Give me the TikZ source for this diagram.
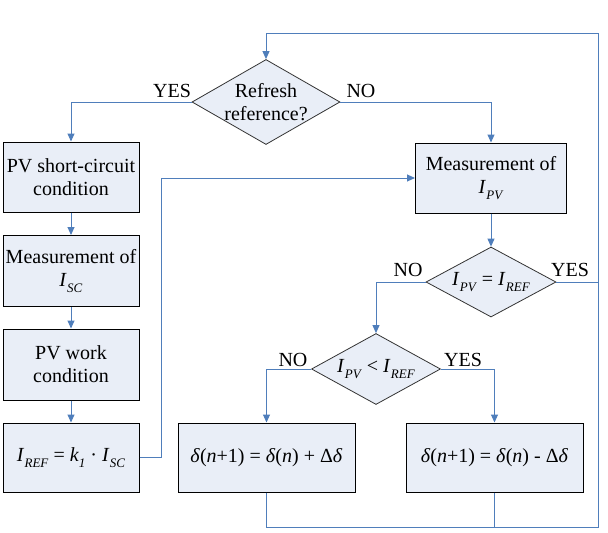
\documentclass[tikz,border=0pt]{standalone}
\usepackage{fontspec}
\setmainfont{Liberation Serif}
\usetikzlibrary{shapes.geometric,arrows.meta}
\definecolor{linkblue}{HTML}{4F7EBB}
\definecolor{boxfill}{HTML}{E9EEF7}
\newcommand\Isub[2]{\textit{#1}\kern0.3pt\raisebox{-0.28em}{\fontsize{13}{13}\selectfont\textit{#2}}}
\begin{document}
\begin{tikzpicture}[x=1pt,y=-1pt,
  every node/.style={font=\fontsize{20}{23}\selectfont},
  procbox/.style={draw=black, line width=1pt, fill=boxfill, rectangle, inner sep=0pt, align=center},
  decbox/.style={draw=black!80, line width=0.8pt, fill=boxfill, diamond, inner sep=0pt},
  lab/.style={inner sep=0pt},
  link/.style={draw=linkblue, line width=1pt},
  arr/.style={link, -{Triangle[length=8pt,width=7pt]}}]
\useasboundingbox (0,0) rectangle (608,533);
% decisions
\node[decbox, minimum width=148pt, minimum height=85pt] (d1) at (266,102) {};
\node[lab, align=center] (d1t) at (d1.center) {Refresh\\reference?};
\node[decbox, minimum width=130pt, minimum height=70pt] (d2) at (491,282) {};
\node[lab] (d2t) at (d2.center) {\Isub{I}{PV} = \Isub{I}{REF}};
\node[decbox, minimum width=129pt, minimum height=71pt] (d3) at (376,369) {};
\node[lab] (d3t) at (d3.center) {\Isub{I}{PV} < \Isub{I}{REF}};
% left column
\node[procbox, minimum width=136pt, minimum height=70pt] (b1) at (71,177) {PV short-circuit\\condition};
\node[procbox, minimum width=136pt, minimum height=71pt] (b2) at (71,271) {Measurement of\\\Isub{I}{SC}};
\node[procbox, minimum width=136pt, minimum height=71pt] (b3) at (71,364.5) {PV work\\condition};
\node[procbox, minimum width=136pt, minimum height=69pt] (b4) at (71,457.5) {\Isub{I}{REF} = \textit{k}\raisebox{-0.28em}{\fontsize{13}{13}\selectfont\textit{1}} · \Isub{I}{SC}};
% right column
\node[procbox, minimum width=151pt, minimum height=70pt] (m1) at (491,178) {Measurement of\\\Isub{I}{PV}};
\node[procbox, minimum width=177pt, minimum height=69pt] (p1) at (266.5,457.5) {\textit{δ}(\textit{n}+1) = \textit{δ}(\textit{n}) + Δ\textit{δ}};
\node[procbox, minimum width=177pt, minimum height=69pt] (p2) at (494.5,457.5) {\textit{δ}(\textit{n}+1) = \textit{δ}(\textit{n}) - Δ\textit{δ}};
% loop corners
\coordinate (br) at (598,527);
\coordinate (tr) at (598,33);
% connectors
\draw[arr] (d1.west) -| (b1.north);
\draw[arr] (d1.east) -| (m1.north);
\draw[arr] (b1.south) -- (b2.north);
\draw[arr] (b2.south) -- (b3.north);
\draw[arr] (b3.south) -- (b4.north);
\draw[arr] (b4.east) -- ++(22,0) |- (m1.west);
\draw[arr] (m1.south) -- (d2.north);
\draw[arr] (d2.west) -| (d3.north);
\draw[link] (d2.east) -- (d2.east -| br);
\draw[arr] (d3.west) -| (p1.north);
\draw[arr] (d3.east) -| (p2.north);
\draw[arr] (p1.south) |- (br) -- (tr) -| (d1.north);
\draw[link] (p2.south) -- (p2.south |- br);
% labels
\node[lab] (l1) at (172,91) {YES};
\node[lab] (l2) at (361,91) {NO};
\node[lab] (l3) at (408,270) {NO};
\node[lab] (l4) at (570,270) {YES};
\node[lab] (l5) at (293,360) {NO};
\node[lab] (l6) at (463,360) {YES};
\end{tikzpicture}
\end{document}
